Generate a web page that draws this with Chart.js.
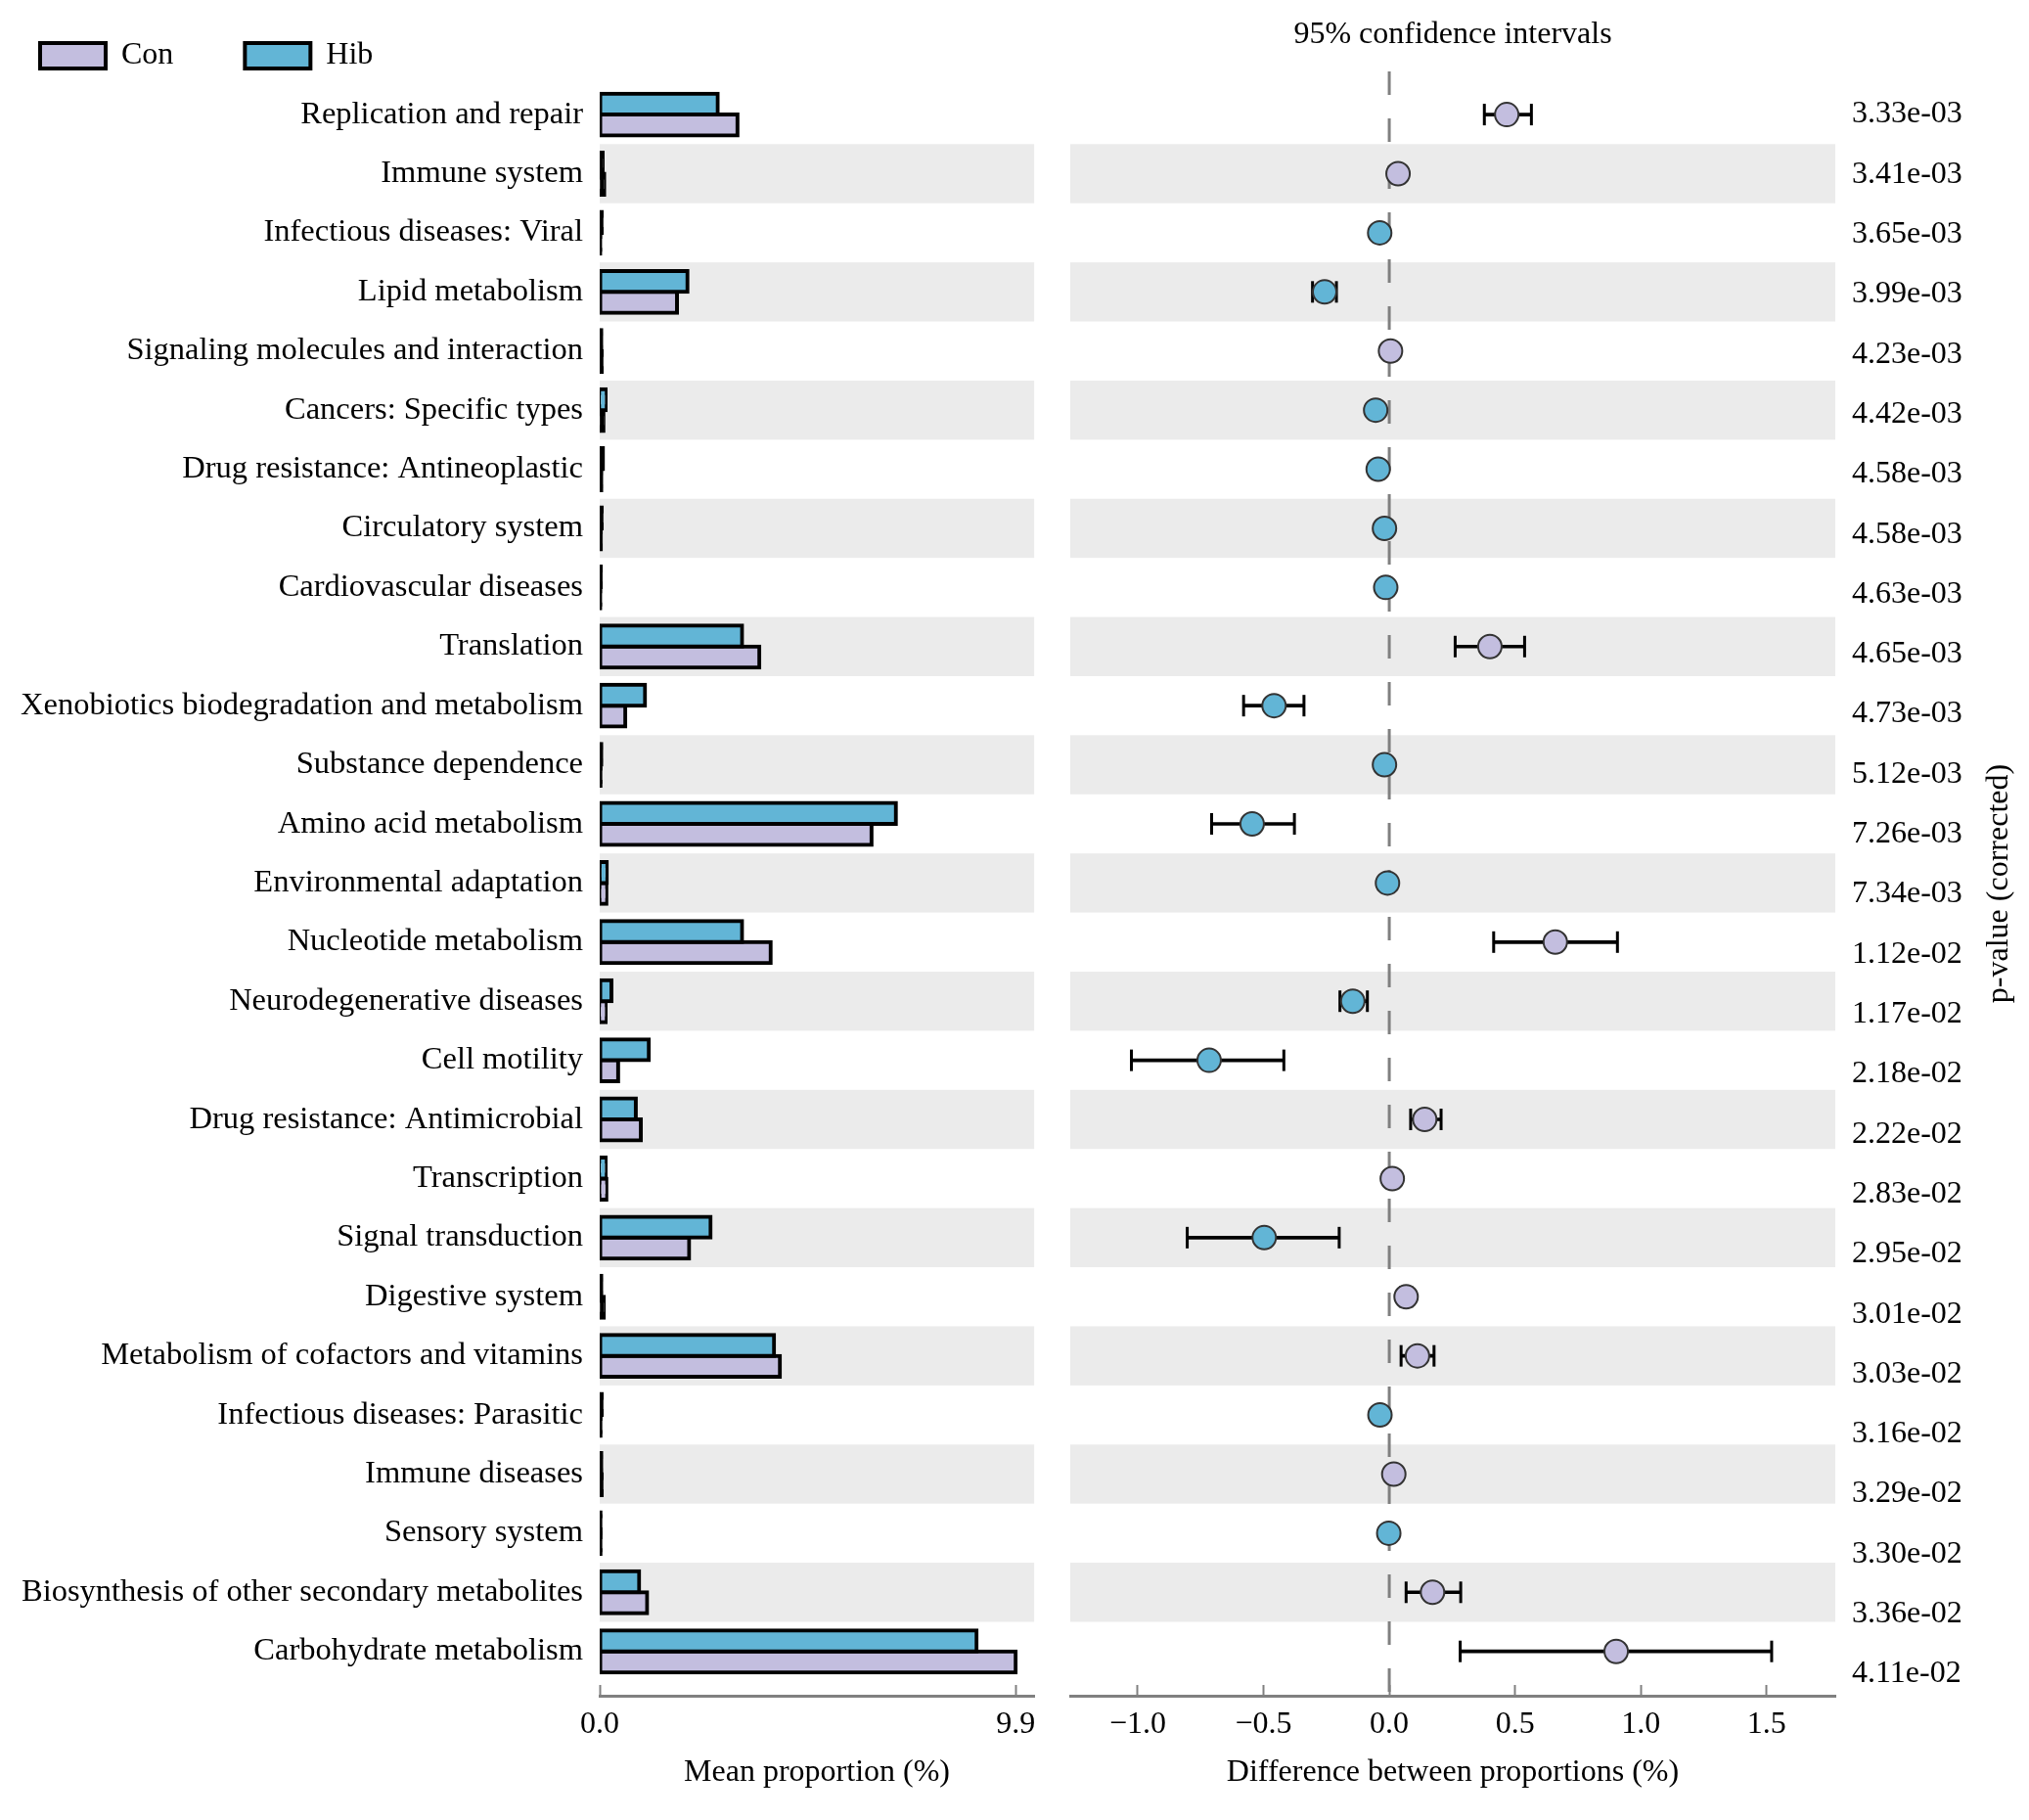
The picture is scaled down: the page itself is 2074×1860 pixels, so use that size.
<!DOCTYPE html>
<html><head><meta charset="utf-8">
<script src="https://cdn.jsdelivr.net/npm/chart.js@4.4.1/dist/chart.umd.min.js"></script>
<style>
html,body{margin:0;padding:0;background:#fff;}
#wrap{position:relative;width:2074px;height:1860px;overflow:hidden;background:#fff;}
#cA{position:absolute;left:0;top:0;}
#cB{position:absolute;left:1080px;top:0;}
</style></head><body>
<div id="wrap"><canvas id="cA" width="1080" height="1860"></canvas><canvas id="cB" width="994" height="1860"></canvas></div>
<script>
const categories = [
  'Replication and repair','Immune system','Infectious diseases: Viral','Lipid metabolism',
  'Signaling molecules and interaction','Cancers: Specific types','Drug resistance: Antineoplastic',
  'Circulatory system','Cardiovascular diseases','Translation','Xenobiotics biodegradation and metabolism',
  'Substance dependence','Amino acid metabolism','Environmental adaptation','Nucleotide metabolism',
  'Neurodegenerative diseases','Cell motility','Drug resistance: Antimicrobial','Transcription',
  'Signal transduction','Digestive system','Metabolism of cofactors and vitamins',
  'Infectious diseases: Parasitic','Immune diseases','Sensory system',
  'Biosynthesis of other secondary metabolites','Carbohydrate metabolism'
];
const hibMean = [2.81,0.07,0.05,2.09,0.04,0.14,0.08,0.05,0.03,3.39,1.08,0.04,7.05,0.17,3.39,0.28,1.17,0.86,0.14,2.64,0.04,4.15,0.05,0.04,0.02,0.94,8.97];
const conMean = [3.28,0.11,0.015,1.84,0.05,0.09,0.04,0.03,0.015,3.80,0.61,0.02,6.47,0.16,4.07,0.14,0.44,0.98,0.16,2.13,0.10,4.29,0.02,0.05,0.02,1.13,9.90];
const diffMean = [0.467,0.035,-0.038,-0.257,0.005,-0.054,-0.044,-0.019,-0.014,0.40,-0.458,-0.019,-0.545,-0.007,0.66,-0.145,-0.716,0.141,0.012,-0.497,0.067,0.112,-0.037,0.018,-0.002,0.172,0.902];
const ciLow  = [0.378,0.025,-0.048,-0.305,-0.002,-0.066,-0.054,-0.026,-0.020,0.262,-0.579,-0.026,-0.706,-0.015,0.415,-0.196,-1.025,0.085,0.004,-0.803,0.045,0.047,-0.047,0.008,-0.008,0.067,0.282];
const ciHigh = [0.565,0.045,-0.028,-0.210,0.012,-0.042,-0.034,-0.012,-0.008,0.538,-0.339,-0.012,-0.377,0.001,0.907,-0.087,-0.419,0.206,0.020,-0.199,0.089,0.178,-0.027,0.028,0.004,0.284,1.520];
const pValues = ['3.33e-03','3.41e-03','3.65e-03','3.99e-03','4.23e-03','4.42e-03','4.58e-03','4.58e-03','4.63e-03','4.65e-03','4.73e-03','5.12e-03','7.26e-03','7.34e-03','1.12e-02','1.17e-02','2.18e-02','2.22e-02','2.83e-02','2.95e-02','3.01e-02','3.03e-02','3.16e-02','3.29e-02','3.30e-02','3.36e-02','4.11e-02'];
const meanTicks = [0, 9.9];
const diffTicks = [-1.0, -0.5, 0.0, 0.5, 1.0, 1.5];

const FONT = "'Liberation Serif','Times New Roman',serif";
Chart.defaults.font.family = FONT;
Chart.defaults.font.size = 32;
Chart.defaults.font.lineHeight = 1.2;
Chart.defaults.color = '#000';

const ROW_MIN = -0.73, ROW_MAX = 26.75;
const HIB = '#62B5D6', CON = '#C3BEDF', BAND = '#EBEBEB', AXIS = '#808080';

// a bar narrower than its outline is shown as a plain dark stroke, as in the original
function barFill(base) {
  return (c) => {
    if (!c.raw || c.type !== 'data') return base;
    const xs = c.chart.scales.x;
    const w = Math.abs(xs.getPixelForValue(c.raw.x) - xs.getPixelForValue(0));
    return w < 5 ? '#000' : base;
  };
}

const bandPlugin = {
  id: 'bands',
  beforeDatasetsDraw(chart) {
    const {ctx, chartArea} = chart;
    const ys = chart.scales.y;
    const h = Math.abs(ys.getPixelForValue(1) - ys.getPixelForValue(0));
    ctx.save();
    ctx.fillStyle = BAND;
    categories.forEach((c, i) => {
      if (i % 2 === 1) {
        const py = ys.getPixelForValue(i);
        ctx.fillRect(chartArea.left, py - h / 2, chartArea.right - chartArea.left, h);
      }
    });
    ctx.restore();
  }
};

const legendHeightPlugin = {
  id: 'legendH',
  beforeInit(chart) {
    if (!chart.legend) return;
    const proto = Object.getPrototypeOf(chart.legend);
    chart.legend.fit = function () { proto.fit.call(this); this.height = 73; };
  }
};

const pTitlePlugin = {
  id: 'pTitle',
  afterDraw(chart) {
    const {ctx, chartArea} = chart;
    const s = chart.scales.p;
    ctx.save();
    ctx.font = '32px ' + FONT;
    ctx.fillStyle = '#000';
    ctx.textAlign = 'center';
    ctx.textBaseline = 'middle';
    ctx.translate(s.right - 30, (chartArea.top + chartArea.bottom) / 2);
    ctx.rotate(-Math.PI / 2);
    ctx.fillText('p-value (corrected)', 0, 0);
    ctx.restore();
  }
};

const xGrid = {display: true, drawOnChartArea: false, drawTicks: true, tickLength: -11, tickColor: AXIS, tickWidth: 2};
const xBorder = {display: true, color: AXIS, width: 3};

new Chart(document.getElementById('cA'), {
  type: 'bar',
  data: {
    datasets: [
      {label: 'Hib', data: hibMean.map((v, i) => ({x: v, y: i})), backgroundColor: barFill(HIB), borderColor: '#000', borderWidth: 4, borderSkipped: false, inflateAmount: 2},
      {label: 'Con', data: conMean.map((v, i) => ({x: v, y: i})), backgroundColor: barFill(CON), borderColor: '#000', borderWidth: 4, borderSkipped: false, inflateAmount: 2}
    ]
  },
  options: {
    indexAxis: 'y', responsive: false, animation: false, devicePixelRatio: 1,
    layout: {padding: {left: 0, right: 18, top: 0, bottom: 0}},
    datasets: {bar: {categoryPercentage: 0.71, barPercentage: 1.0}},
    plugins: {
      legend: {
        position: 'top', align: 'start', reverse: true,
        labels: {
          boxWidth: 67, boxHeight: 26, padding: 41, color: '#000', font: {size: 32},
          generateLabels(chart) {
            const items = Chart.defaults.plugins.legend.labels.generateLabels(chart);
            return items.map(it => Object.assign({}, it, {
              fillStyle: it.text === 'Con' ? CON : HIB,
              text: it.text === 'Con' ? 'Con\u2003' : it.text
            }));
          }
        }
      },
      tooltip: {enabled: false}
    },
    scales: {
      y: {
        type: 'linear', reverse: true, min: ROW_MIN, max: ROW_MAX, bounds: 'data', offset: false,
        grid: {display: false, drawTicks: false, offset: false}, border: {display: false},
        ticks: {autoSkip: false, padding: 17, font: {size: 32.5}, callback: (v) => categories[Math.round(v)]},
        afterBuildTicks: (s) => { s.ticks = categories.map((c, i) => ({value: i})); },
        afterFit: (s) => { s.width = 613; }
      },
      x: {
        type: 'linear', min: 0, max: 10.34, bounds: 'data',
        grid: xGrid, border: xBorder,
        ticks: {padding: 21, autoSkip: false, callback: (v) => Number(v).toFixed(1)},
        afterBuildTicks: (s) => { s.ticks = meanTicks.map(v => ({value: v})); },
        title: {display: true, text: 'Mean proportion (%)', font: {size: 32}, color: '#000', padding: {top: 0, bottom: 29}},
        afterFit: (s) => { s.height = 127; }
      }
    }
  },
  plugins: [bandPlugin, legendHeightPlugin]
});

new Chart(document.getElementById('cB'), {
  type: 'scatter',
  data: {
    datasets: [
      {type: 'scatter', label: 'diff', data: diffMean.map((v, i) => ({x: v, y: i})),
       pointRadius: 12, pointBackgroundColor: diffMean.map(v => v > 0 ? CON : HIB),
       pointBorderColor: '#333', pointBorderWidth: 2, order: 0},
      {type: 'scatter', label: 'caps',
       data: ciLow.map((v, i) => ({x: v, y: i})).concat(ciHigh.map((v, i) => ({x: v, y: i}))),
       pointStyle: 'line', pointRotation: 90, pointRadius: 11, pointBorderColor: '#000', pointBorderWidth: 3, order: 1},
      {type: 'bar', label: 'ci', indexAxis: 'y',
       data: ciLow.map((v, i) => ({y: i, x: [v, ciHigh[i]]})),
       barThickness: 3, backgroundColor: '#000', borderWidth: 0, order: 2},
      {type: 'scatter', label: 'zero', showLine: true,
       data: [{x: 0, y: ROW_MIN}, {x: 0, y: ROW_MAX}],
       borderColor: AXIS, borderWidth: 3, borderDash: [24, 24], pointRadius: 0, order: 3}
    ]
  },
  options: {
    responsive: false, animation: false, devicePixelRatio: 1,
    layout: {padding: {left: 14, right: 0, top: 0, bottom: 0}},
    plugins: {
      legend: {display: false}, tooltip: {enabled: false},
      title: {display: true, text: '95% confidence intervals', fullSize: false, color: '#000',
              font: {size: 32, weight: 'normal'}, padding: {top: 16.8, bottom: 17.8}}
    },
    scales: {
      x: {
        type: 'linear', min: -1.268, max: 1.773, bounds: 'data',
        grid: xGrid, border: xBorder,
        ticks: {padding: 21, autoSkip: false, callback: (v) => Number(v).toFixed(1).replace('-', '\u2212')},
        afterBuildTicks: (s) => { s.ticks = diffTicks.map(v => ({value: v})); },
        title: {display: true, text: 'Difference between proportions (%)', font: {size: 32}, color: '#000', padding: {top: 0, bottom: 29}},
        afterFit: (s) => { s.height = 127; }
      },
      y: {type: 'linear', display: false, reverse: true, min: ROW_MIN, max: ROW_MAX, bounds: 'data', offset: false, grid: {offset: false}},
      p: {
        type: 'linear', axis: 'y', position: 'right', reverse: true, min: -0.7178, max: 26.359, bounds: 'data',
        grid: {display: false, drawTicks: false}, border: {display: false},
        ticks: {autoSkip: false, padding: 17, callback: (v) => pValues[Math.round(v)]},
        afterBuildTicks: (s) => { s.ticks = pValues.map((p, i) => ({value: i})); },
        afterFit: (s) => { s.width = 198; }
      }
    }
  },
  plugins: [bandPlugin, pTitlePlugin]
});
</script>
</body></html>
